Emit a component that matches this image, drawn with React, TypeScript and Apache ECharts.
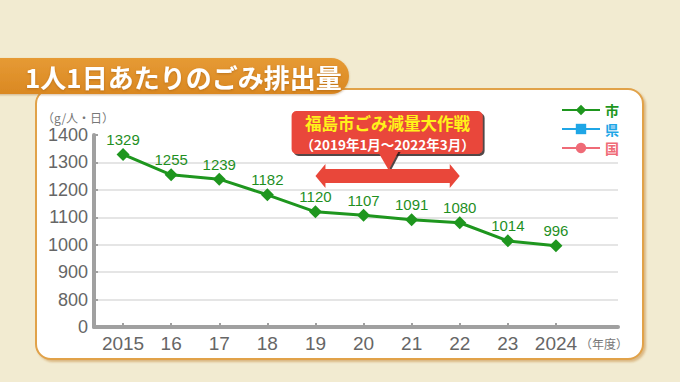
import React, { useEffect, useRef } from "react";
import * as echarts from "echarts";

const years = ["2015", "16", "17", "18", "19", "20", "21", "22", "23", "2024"];
const cityValues = [1329, 1255, 1239, 1182, 1120, 1107, 1091, 1080, 1014, 996];
const prefValues: number[] = [];
const nationValues: number[] = [];
const seriesNames = ["市", "県", "国"];
const seriesColors = ["#1e961e", "#1fa6e6", "#ef6b77"];
const yMin = 700; // axis break: the 700 position is labelled "0"
const yMax = 1400;
const yStep = 100;
const titleText = "1人1日あたりのごみ排出量";
const unitText = "（g/人・日）";
const xUnitText = "（年度）";
const calloutTitle = "福島市ごみ減量大作戦";
const calloutSub = "（2019年1月～2022年3月）";
const campaignStart = "19";
const campaignEnd = "22";

const FONT = "'Liberation Sans', Arial, sans-serif";
const JP = "'Noto Sans CJK JP', sans-serif";

export default function App() {
  const ref = useRef<HTMLDivElement>(null);
  useEffect(() => {
    if (!ref.current) return;
    const chart = echarts.init(ref.current, null, { renderer: "svg" });
    const axisGray = "#a0a0a0";
    const labelGray = "#666666";
    const option: any = {
      animation: false,
      backgroundColor: "#f2ebd1",
      grid: [
        { left: 99, right: 100, top: 135, bottom: 55 },
        { left: 94, right: 62, top: 135, bottom: 55 },
      ],
      xAxis: [
        {
          type: "category",
          gridIndex: 0,
          data: years,
          boundaryGap: true,
          axisLine: { show: false },
          axisTick: { show: true, inside: true, alignWithLabel: true, interval: 0, length: 4, lineStyle: { color: axisGray, width: 2 } },
          axisLabel: { color: labelGray, fontSize: 19, fontFamily: FONT, margin: 7, interval: 0 },
          splitLine: { show: false },
          z: 5,
        },
        {
          type: "value",
          gridIndex: 1,
          min: 0,
          max: 1,
          axisLine: { show: true, lineStyle: { color: axisGray, width: 4 } },
          axisTick: { show: false },
          axisLabel: { show: false },
          splitLine: { show: false },
          z: 4,
        },
      ],
      yAxis: [
        {
          type: "value",
          gridIndex: 0,
          min: yMin,
          max: yMax,
          interval: yStep,
          show: false,
          splitLine: { show: false },
        },
        {
          type: "value",
          gridIndex: 1,
          min: yMin,
          max: yMax,
          interval: yStep,
          axisLine: { show: true, lineStyle: { color: axisGray, width: 4 } },
          axisTick: { show: true, inside: true, length: 4, lineStyle: { color: axisGray, width: 2 } },
          axisLabel: {
            color: labelGray,
            fontSize: 18,
            fontFamily: FONT,
            margin: 6,
            formatter: (v: number) => (v === yMin ? "0" : String(v)),
          },
          splitLine: { show: true, showMinLine: false, showMaxLine: false, lineStyle: { color: "#dddddd", width: 1.5 } },
          z: 4,
        },
      ],
      legend: {
        orient: "vertical",
        right: 56,
        top: 98,
        itemWidth: 38,
        itemHeight: 13,
        itemGap: 5,
        data: seriesNames.map((n, i) => ({
          name: n,
          textStyle: { color: seriesColors[i], fontSize: 14, fontWeight: "bold", fontFamily: JP },
        })),
      },
      series: [
        {
          name: seriesNames[0],
          type: "line",
          xAxisIndex: 0,
          yAxisIndex: 0,
          data: cityValues,
          symbol: "diamond",
          symbolSize: 13,
          lineStyle: { color: seriesColors[0], width: 3 },
          itemStyle: { color: seriesColors[0] },
          label: { show: true, position: "top", distance: 1, color: "#1f8f1f", fontSize: 15, fontFamily: FONT },
          z: 10,
        },
        {
          name: seriesNames[1],
          type: "line",
          xAxisIndex: 0,
          yAxisIndex: 0,
          data: prefValues,
          symbol: "rect",
          symbolSize: 10,
          lineStyle: { color: seriesColors[1], width: 3 },
          itemStyle: { color: seriesColors[1] },
        },
        {
          name: seriesNames[2],
          type: "line",
          xAxisIndex: 0,
          yAxisIndex: 0,
          data: nationValues,
          symbol: "circle",
          symbolSize: 12,
          lineStyle: { color: seriesColors[2], width: 3 },
          itemStyle: { color: seriesColors[2] },
        },
      ],
    };
    chart.setOption(option);

    const x1 = chart.convertToPixel({ xAxisIndex: 0 }, campaignStart) as number;
    const x2 = chart.convertToPixel({ xAxisIndex: 0 }, campaignEnd) as number;
    const ay = 176;
    const headL = 10;
    const headH = 12;
    const shaftH = 7;
    const cx = (x1 + x2) / 2;
    const red = "#e9473a";

    chart.setOption({
      graphic: [
        {
          type: "rect",
          z: -100,
          shape: { x: 36, y: 89, width: 607, height: 270, r: 15 },
          style: {
            fill: "#ffffff",
            stroke: "#e1a24a",
            lineWidth: 2,
            shadowBlur: 2,
            shadowOffsetX: 2,
            shadowOffsetY: 2,
            shadowColor: "rgba(190,120,40,0.45)",
          },
        },
        {
          type: "rect",
          z: 100,
          shape: { x: -20, y: 58, width: 369, height: 36, r: [0, 18, 18, 0] },
          style: {
            fill: new echarts.graphic.LinearGradient(0, 0, 0, 1, [
              { offset: 0, color: "#e69a34" },
              { offset: 1, color: "#da8822" },
            ]),
            shadowBlur: 2,
            shadowOffsetY: 1,
            shadowColor: "rgba(150,90,20,0.4)",
          },
        },
        {
          type: "text",
          z: 101,
          x: 25,
          y: 76,
          style: {
            text: titleText,
            fill: "#ffffff",
            font: `bold 26px ${JP}`,
            verticalAlign: "middle",
            textShadowColor: "rgba(120,60,0,0.35)",
            textShadowBlur: 2,
            textShadowOffsetY: 1,
          },
        },
        {
          type: "text",
          z: 50,
          x: 42,
          y: 117,
          style: { text: unitText, fill: "#777777", font: `12px ${JP}`, verticalAlign: "middle" },
        },
        {
          type: "text",
          z: 50,
          x: 580,
          y: 343,
          style: { text: xUnitText, fill: "#777777", font: `12px ${JP}`, verticalAlign: "middle" },
        },
        // callout box
        {
          type: "rect",
          z: 60,
          shape: { x: cx - 96, y: 111, width: 191, height: 43, r: 5 },
          style: { fill: red, shadowColor: "rgba(40,20,20,0.8)", shadowOffsetX: 2, shadowOffsetY: 2, shadowBlur: 1 },
        },
        {
          type: "polygon",
          z: 60,
          shape: { points: [[cx - 10, 151], [cx + 11, 151], [cx + 1, 170]] },
          style: { fill: red, shadowColor: "rgba(40,20,20,0.8)", shadowOffsetX: 2, shadowOffsetY: 1, shadowBlur: 1 },
        },
        {
          type: "text",
          z: 61,
          x: cx,
          y: 123,
          style: {
            text: calloutTitle,
            fill: "#fff21a",
            font: `bold 16.5px ${JP}`,
            align: "center",
            verticalAlign: "middle",
          },
        },
        {
          type: "text",
          z: 61,
          x: cx,
          y: 144,
          style: {
            text: calloutSub,
            fill: "#ffffff",
            font: `bold 13.5px ${JP}`,
            align: "center",
            verticalAlign: "middle",
          },
        },
        // double-headed arrow
        {
          type: "polygon",
          z: 60,
          shape: {
            points: [
              [x1, ay],
              [x1 + headL, ay - headH],
              [x1 + headL, ay - shaftH],
              [x2 - headL, ay - shaftH],
              [x2 - headL, ay - headH],
              [x2, ay],
              [x2 - headL, ay + headH],
              [x2 - headL, ay + shaftH],
              [x1 + headL, ay + shaftH],
              [x1 + headL, ay + headH],
            ],
          },
          style: { fill: red },
        },
      ],
    });

    return () => chart.dispose();
  }, []);
  return <div ref={ref} style={{ position: "fixed", left: 0, top: 0, width: 680, height: 382 }} />;
}
